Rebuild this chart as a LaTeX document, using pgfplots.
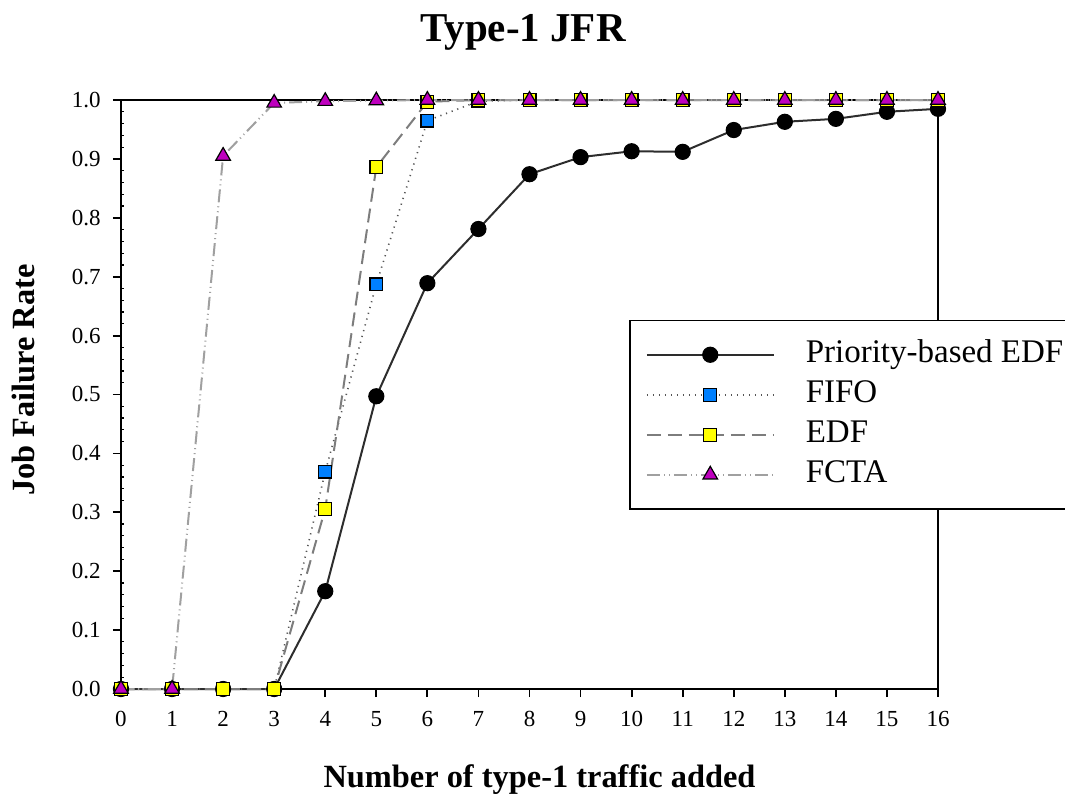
\documentclass[border=0pt]{standalone}
\usepackage{pgfplots}
\pgfplotsset{compat=1.18}
\usepackage{fontspec}
\setmainfont{Liberation Serif}

\definecolor{fifoblue}{RGB}{0,128,255}
\definecolor{edfyellow}{RGB}{255,255,0}
\definecolor{fctamag}{RGB}{190,0,190}
\definecolor{lnA}{RGB}{45,45,45}
\definecolor{lnB}{RGB}{85,85,85}
\definecolor{lnC}{RGB}{125,125,125}
\definecolor{lnD}{RGB}{160,160,160}

\begin{document}
\begin{tikzpicture}
% fixed page frame around the axis box
\path[use as bounding box] (-60.5pt,-55.5pt) rectangle (472pt,344.5pt);
\begin{axis}[
  scale only axis,
  width=408.5pt, height=294.5pt,
  xmin=0, xmax=16, ymin=0, ymax=1,
  clip=false,
  axis line style={line width=1pt, black},
  tick pos=left,
  tick align=outside,
  major tick length=4pt,
  minor tick length=1.5pt,
  every tick/.style={black, line width=0.9pt},
  minor y tick num=4,
  minor y tick style={xshift=1.5pt, line width=0.6pt},
  xtick={0,1,...,16},
  ytick={0,0.1,...,1.0},
  /pgf/number format/assume math mode=true,
  yticklabel={\pgfmathprintnumber[fixed,fixed zerofill,precision=1]{\tick}},
  ticklabel style={font=\fontsize{11.5}{13}\selectfont},
  yticklabel style={xshift=-2.7pt},
  xticklabel style={yshift=-3.7pt},
  title={Type-1 JFR},
  title style={font=\bfseries\fontsize{20.5}{24}\selectfont, at={(axis description cs:0.492,1.1053)}, anchor=base, yshift=-8pt},
  xlabel={Number of type-1 traffic added},
  xlabel style={font=\bfseries\fontsize{16.2}{19}\selectfont, at={(axis description cs:0.5122,-0.1664)}, anchor=base},
  ylabel={Job Failure Rate},
  ylabel style={font=\bfseries\fontsize{16.2}{19}\selectfont, at={(axis description cs:-0.1053,0.5246)}, anchor=base, rotate=0},
  legend style={at={(axis description cs:0.6218,0.6265)}, anchor=north west,
    draw=black, line width=0.75pt, fill=white,
    font=\fontsize{16.5}{19}\selectfont,
    inner xsep=8pt, inner ysep=7pt, row sep=0pt, column sep=15.5pt,
    nodes={inner xsep=0pt, inner ysep=2.5pt, text height=11.5pt, text depth=3.5pt}},
  legend cell align=left,
  legend image code/.code={\draw[mark repeat=2,mark phase=2] plot coordinates {(0pt,0pt) (31.75pt,0pt) (63.5pt,0pt)};},
]

% Priority-based EDF
\addplot[lnA, line width=1pt, mark=*, mark size=3.8pt,
  mark options={solid, fill=black, draw=black, line width=0.5pt}]
  coordinates {(0,0) (1,0) (2,0) (3,0) (4,0.166) (5,0.497) (6,0.689) (7,0.781)
    (8,0.874) (9,0.903) (10,0.913) (11,0.912) (12,0.949) (13,0.963) (14,0.968)
    (15,0.980) (16,0.985)};
\addlegendentry{\makebox[122pt][l]{Priority-based EDF}}

% FIFO
\addplot[lnB, line width=0.8pt, dash pattern=on 0.6pt off 2.4pt, mark=square*, mark size=3.2pt,
  mark options={solid, fill=fifoblue, draw=black, line width=0.6pt}]
  coordinates {(0,0) (1,0) (2,0) (3,0) (4,0.369) (5,0.687) (6,0.965) (7,0.998)
    (8,1) (9,1) (10,1) (11,1) (12,1) (13,1) (14,1) (15,1) (16,1)};
\addlegendentry{FIFO}

% EDF
\addplot[lnC, line width=1pt, dash pattern=on 7pt off 3.5pt, mark=square*, mark size=3.2pt,
  mark options={solid, fill=edfyellow, draw=black, line width=0.6pt}]
  coordinates {(0,0) (1,0) (2,0) (3,0) (4,0.306) (5,0.886) (6,0.997) (7,1)
    (8,1) (9,1) (10,1) (11,1) (12,1) (13,1) (14,1) (15,1) (16,1)};
\addlegendentry{EDF}

% FCTA
\addplot[lnD, line width=1pt, dash pattern=on 6.5pt off 2pt on 0.5pt off 2pt on 0.5pt off 2pt,
  mark=triangle*, mark size=4.2pt,
  mark options={solid, fill=fctamag, draw=black, line width=0.6pt}]
  coordinates {(0,0) (1,0) (2,0.905) (3,0.995) (4,0.998) (5,0.999) (6,1) (7,1)
    (8,1) (9,1) (10,1) (11,1) (12,1) (13,1) (14,1) (15,1) (16,1)};
\addlegendentry{FCTA}

\end{axis}
\end{tikzpicture}
\end{document}
